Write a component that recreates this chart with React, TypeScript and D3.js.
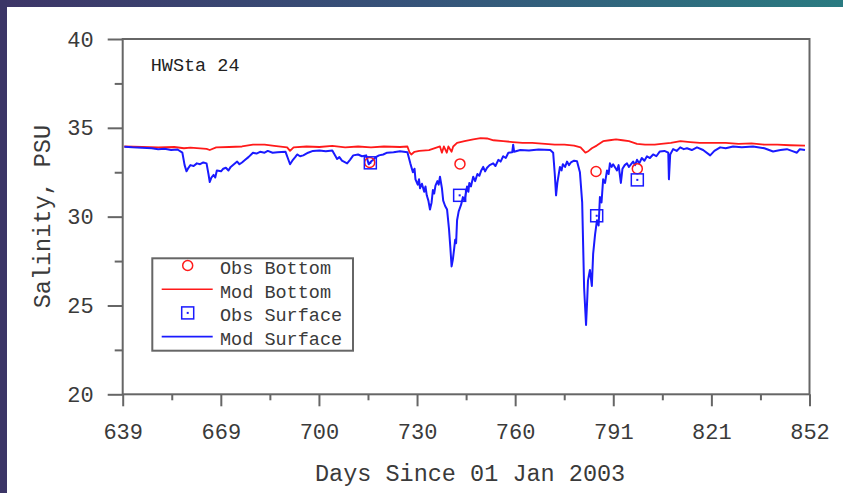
import React, { useEffect, useRef } from 'react';
import * as d3 from 'd3';

// Mod Surface (blue): [days since 01 Jan 2003, salinity PSU]
const modSurface: [number, number][] = [
  [639.5, 33.93], [642, 33.9], [645, 33.88], [648, 33.85], [650, 33.8], [652, 33.82], [654, 33.75],
  [656, 33.78], [657.5, 33.6], [658.2, 32.9], [658.8, 32.55], [659.4, 32.75], [660, 32.9], [661, 32.85],
  [662, 33.0], [663, 32.95], [664, 33.05], [665, 33.0], [665.6, 32.4], [666, 31.95], [666.5, 32.2],
  [667.2, 32.35], [667.7, 32.2], [668.2, 32.6], [669.5, 32.55], [670.2, 32.7], [671, 32.75], [671.8, 32.6],
  [672.5, 32.8], [673.5, 32.95], [674.5, 33.1], [675.2, 32.95], [676, 33.05], [677, 33.2], [678, 33.35],
  [679.4, 33.6], [680.5, 33.55], [681.6, 33.65], [683, 33.6], [684, 33.7], [685.5, 33.6], [687, 33.62],
  [689.5, 33.65], [690.2, 33.3], [690.9, 32.95], [691.8, 33.2], [692.5, 33.35], [693.1, 33.5], [694, 33.4],
  [695, 33.45], [696.5, 33.6], [698, 33.7], [700, 33.72], [702, 33.68], [704, 33.72], [705.5, 33.25],
  [706.2, 33.35], [707, 33.15], [708.6, 33.0], [709.5, 33.2], [710.5, 33.45], [712, 33.5], [713.2, 33.4],
  [714.5, 33.45], [715.3, 32.95], [716, 33.1], [716.7, 33.2], [717.5, 33.35], [718.5, 33.45], [719.8, 33.5],
  [721, 33.6], [723, 33.62], [725, 33.68], [727.3, 33.62], [728.2, 33.0], [729, 32.5], [729.5, 32.7],
  [729.8, 32.1], [730.5, 31.8], [730.9, 32.1], [731.2, 31.6], [731.8, 31.85], [732.5, 31.4], [732.9, 31.7],
  [733.3, 31.2], [733.8, 30.9], [734.3, 30.4], [734.8, 30.8], [735.2, 31.5], [735.6, 31.3], [736, 31.75],
  [736.6, 32.0], [737, 31.8], [737.4, 32.25], [738, 31.6], [738.4, 30.9], [739, 30.6], [739.6, 30.4],
  [740.2, 29.3], [740.6, 28.3], [741, 27.2], [741.4, 27.6], [741.8, 28.2], [742.1, 28.7], [742.4, 28.5],
  [742.7, 29.8], [743.2, 30.3], [743.7, 30.55], [744, 30.7], [744.5, 31.1], [745, 30.9], [745.8, 31.7],
  [746.2, 31.4], [746.5, 31.9], [747, 31.7], [747.7, 32.25], [748.3, 32.0], [749, 32.4], [749.6, 32.3],
  [750.2, 32.6], [750.8, 32.8], [751.4, 32.55], [752, 32.75], [752.8, 32.9], [753.9, 33.0], [754.6, 32.85],
  [755.5, 33.2], [756.2, 33.1], [757, 33.4], [757.8, 33.3], [758.6, 33.6], [759.8, 33.62], [760.1, 34.05],
  [760.4, 33.65], [762.3, 33.75], [765, 33.72], [768, 33.78], [771.6, 33.75], [772.5, 33.6], [773, 32.4],
  [773.4, 31.2], [773.8, 31.9], [774.6, 32.8], [775.1, 32.6], [775.5, 32.95], [776.2, 32.8], [776.8, 33.1],
  [777.4, 32.9], [778, 33.05], [779, 33.15], [779.9, 33.12], [780.8, 32.5], [781.5, 30.8], [782.1, 26.0],
  [782.7, 23.9], [783.1, 25.5], [783.3, 26.4], [783.9, 27.0], [784.5, 26.1], [784.9, 27.9], [785.5, 29.0],
  [786.1, 29.8], [786.6, 29.5], [787, 31.1], [787.5, 30.8], [788, 32.1], [788.6, 31.9], [789.2, 32.6],
  [789.7, 32.4], [790.1, 33.0], [790.6, 32.8], [791.1, 32.95], [792.3, 32.6], [792.8, 32.9], [793.5, 31.9],
  [794, 32.7], [794.7, 32.9], [795.4, 33.0], [796, 32.8], [797.3, 33.1], [797.9, 32.9], [798.5, 33.2],
  [799.2, 33.0], [800, 33.3], [800.8, 33.15], [801.6, 33.4], [802.5, 33.3], [803.5, 33.5], [804.5, 33.4],
  [805.6, 33.67], [807, 33.7], [808.2, 33.6], [808.4, 32.1], [808.8, 33.5], [809.7, 33.8], [810.8, 33.7],
  [811.9, 33.9], [813, 33.8], [814, 33.85], [815.5, 33.75], [817.1, 33.9], [819, 33.75], [821.2, 33.45],
  [822.5, 33.7], [824.3, 33.9], [826, 33.85], [828.3, 33.95], [831, 33.9], [834.5, 33.95], [838, 33.85],
  [840.7, 33.67], [843, 33.75], [845, 33.8], [846.5, 33.7], [848.1, 33.6], [849, 33.8], [850.6, 33.75],
];

// Mod Bottom (red)
const modBottom: [number, number][] = [
  [639.5, 33.95], [645, 33.92], [650, 33.9], [655, 33.92], [658, 33.85], [660, 33.88], [665, 33.82],
  [666, 33.75], [668, 33.9], [672, 33.92], [676, 33.95], [679.4, 34.05], [683, 34.05], [686, 33.98],
  [690, 33.9], [690.9, 33.7], [692, 33.9], [696, 33.95], [700, 33.92], [704, 33.98], [708, 33.9],
  [712, 33.95], [716, 33.9], [720, 33.95], [725, 33.92], [727.3, 33.95], [728, 33.6], [728.5, 33.5],
  [729.5, 33.65], [731, 33.7], [734, 33.75], [737.4, 33.95], [738, 33.6], [738.6, 33.95], [739.5, 33.6],
  [740, 33.95], [741, 33.65], [741.5, 33.95], [742.7, 34.15], [745, 34.25], [747.7, 34.35], [750, 34.42],
  [752, 34.4], [754, 34.3], [757, 34.25], [760, 34.2], [763, 34.15], [766, 34.15], [770, 34.1],
  [773, 34.05], [776, 34.05], [779, 34.0], [781, 33.9], [782.5, 33.6], [783.5, 33.7], [784.5, 33.85],
  [786, 34.0], [788, 34.25], [790, 34.3], [792, 34.35], [794, 34.3], [796, 34.25], [798.5, 34.1],
  [801, 34.05], [804, 34.05], [806, 34.1], [809, 34.15], [812, 34.25], [815, 34.2], [818, 34.15],
  [822, 34.15], [826, 34.15], [830, 34.1], [834, 34.12], [838, 34.05], [842, 34.05], [846, 34.02],
  [850.6, 34.0],
];

const obsBottom: [number, number][] = [[715.6, 33.05], [743.6, 32.97], [785.8, 32.54], [798.6, 32.7]];
const obsSurface: [number, number][] = [[715.8, 33.03], [743.5, 31.2], [786.0, 30.05], [798.6, 32.07]];

const xTickLabels = ['639', '669', '700', '730', '760', '791', '821', '852'];
const yTicks = [20, 25, 30, 35, 40];
const yMinorTicks = [22.5, 27.5, 32.5, 37.5];
const legendLabels = ['Obs Bottom', 'Mod Bottom', 'Obs Surface', 'Mod Surface'];

const RED = '#ff1a1a';
const BLUE = '#1a1aff';
const AXIS = '#666';
const TEXT = '#3a3a3a';
const FONT = '"Liberation Mono", "DejaVu Sans Mono", monospace';

const App = () => {
  const ref = useRef<SVGSVGElement>(null);

  useEffect(() => {
    const svg = d3.select(ref.current);
    svg.selectAll('*').remove();

    const left = 122.7, right = 809.5, top = 39, bottom = 394.3;

    // slide frame
    const grad = svg.append('defs').append('linearGradient').attr('id', 'topbar');
    grad.append('stop').attr('offset', '0%').attr('stop-color', '#3d3567');
    grad.append('stop').attr('offset', '50%').attr('stop-color', '#36547a');
    grad.append('stop').attr('offset', '100%').attr('stop-color', '#2a7b81');
    svg.append('rect').attr('width', 843).attr('height', 493).attr('fill', '#fff');
    svg.append('rect').attr('x', 0).attr('y', 0).attr('width', 843).attr('height', 7).attr('fill', 'url(#topbar)');
    svg.append('rect').attr('x', 0).attr('y', 0).attr('width', 7).attr('height', 493).attr('fill', '#3b3566');

    const x = d3.scaleLinear().domain([639, 852]).range([left, right]);
    const y = d3.scaleLinear().domain([20, 40]).range([bottom, top]);

    const majorX = xTickLabels.map((_, i) => 639 + (i * 213) / 7);
    const minorX = d3.range(7).map((i) => 639 + ((i + 0.5) * 213) / 7);

    // y axis
    const gy = svg.append('g').attr('transform', `translate(${left},0)`);
    gy.call(
      d3.axisLeft(y).tickValues(yTicks).tickSize(15).tickPadding(14).tickFormat(d3.format('d')) as any
    );
    const gyMinor = svg.append('g').attr('transform', `translate(${left},0)`);
    gyMinor.call(d3.axisLeft(y).tickValues(yMinorTicks).tickSize(8).tickFormat(() => '') as any);

    // x axis
    const gx = svg.append('g').attr('transform', `translate(0,${bottom})`);
    gx.call(
      d3.axisBottom(x).tickValues(majorX).tickSize(12).tickPadding(17)
        .tickFormat((_d, i) => xTickLabels[i]) as any
    );
    const gxMinor = svg.append('g').attr('transform', `translate(0,${bottom})`);
    gxMinor.call(d3.axisBottom(x).tickValues(minorX).tickSize(6).tickFormat(() => '') as any);

    [gy, gyMinor, gx, gxMinor].forEach((g) => {
      g.select('.domain').remove();
      g.selectAll('line').attr('stroke', AXIS).attr('stroke-width', 2);
      g.selectAll('text').attr('font-family', FONT).attr('font-size', 22).attr('fill', TEXT);
    });

    // plot frame
    svg.append('rect')
      .attr('x', left).attr('y', top)
      .attr('width', right - left).attr('height', bottom - top)
      .attr('fill', 'none').attr('stroke', AXIS).attr('stroke-width', 2);

    // model lines
    const line = d3.line<[number, number]>().x((d) => x(d[0])).y((d) => y(d[1]));
    svg.append('path')
      .datum(modBottom)
      .attr('d', line).attr('fill', 'none').attr('stroke', RED).attr('stroke-width', 1.8)
      .attr('stroke-linejoin', 'round');
    svg.append('path')
      .datum(modSurface)
      .attr('d', line).attr('fill', 'none').attr('stroke', BLUE).attr('stroke-width', 2)
      .attr('stroke-linejoin', 'round');

    // observations
    svg.selectAll('circle.obs')
      .data(obsBottom)
      .enter().append('circle')
      .attr('class', 'obs')
      .attr('cx', (d) => x(d[0])).attr('cy', (d) => y(d[1])).attr('r', 5)
      .attr('fill', 'none').attr('stroke', RED).attr('stroke-width', 1.5);
    const sq = svg.selectAll('g.sq')
      .data(obsSurface)
      .enter().append('g')
      .attr('class', 'sq')
      .attr('transform', (d) => `translate(${x(d[0])},${y(d[1])})`);
    sq.append('rect').attr('x', -6).attr('y', -6).attr('width', 12).attr('height', 12)
      .attr('fill', 'none').attr('stroke', BLUE).attr('stroke-width', 1.5);
    sq.append('rect').attr('x', -1).attr('y', -1).attr('width', 2).attr('height', 2).attr('fill', BLUE);

    // station label
    svg.append('text').attr('x', 150.7).attr('y', 70.7)
      .attr('font-family', FONT).attr('font-size', 18.5).attr('fill', '#222')
      .text('HWSta 24');

    // legend
    const lg = svg.append('g');
    lg.append('rect').attr('x', 152.3).attr('y', 258.3).attr('width', 200.7).attr('height', 92.4)
      .attr('fill', '#fff').attr('stroke', AXIS).attr('stroke-width', 2);
    const rowY = (i: number) => 274 + i * 23.7;
    legendLabels.forEach((lab, i) => {
      const cy = rowY(i) - 8.5;
      if (i === 0) {
        lg.append('circle').attr('cx', 187.7).attr('cy', cy).attr('r', 5)
          .attr('fill', 'none').attr('stroke', RED).attr('stroke-width', 1.5);
      } else if (i === 2) {
        lg.append('rect').attr('x', 181.7).attr('y', cy - 6).attr('width', 12).attr('height', 12)
          .attr('fill', 'none').attr('stroke', BLUE).attr('stroke-width', 1.5);
        lg.append('rect').attr('x', 186.7).attr('y', cy - 1).attr('width', 2).attr('height', 2).attr('fill', BLUE);
      } else {
        lg.append('line').attr('x1', 161.7).attr('x2', 212.7).attr('y1', cy).attr('y2', cy)
          .attr('stroke', i === 1 ? RED : BLUE).attr('stroke-width', 1.6);
      }
      lg.append('text').attr('x', 220).attr('y', rowY(i))
        .attr('font-family', FONT).attr('font-size', 18.5).attr('fill', TEXT)
        .text(lab);
    });

    // axis titles
    svg.append('text')
      .attr('transform', `translate(50,${(top + bottom) / 2}) rotate(-90)`)
      .attr('text-anchor', 'middle')
      .attr('font-family', FONT).attr('font-size', 23.5).attr('fill', TEXT)
      .text('Salinity, PSU');
    svg.append('text')
      .attr('x', (left + right) / 2 + 4).attr('y', 481)
      .attr('text-anchor', 'middle')
      .attr('font-family', FONT).attr('font-size', 23.5).attr('fill', TEXT)
      .text('Days Since 01 Jan 2003');
  }, []);

  return (
    <svg
      ref={ref}
      width={843}
      height={493}
      style={{ position: 'absolute', left: 0, top: 0, display: 'block' }}
    />
  );
};

export default App;
